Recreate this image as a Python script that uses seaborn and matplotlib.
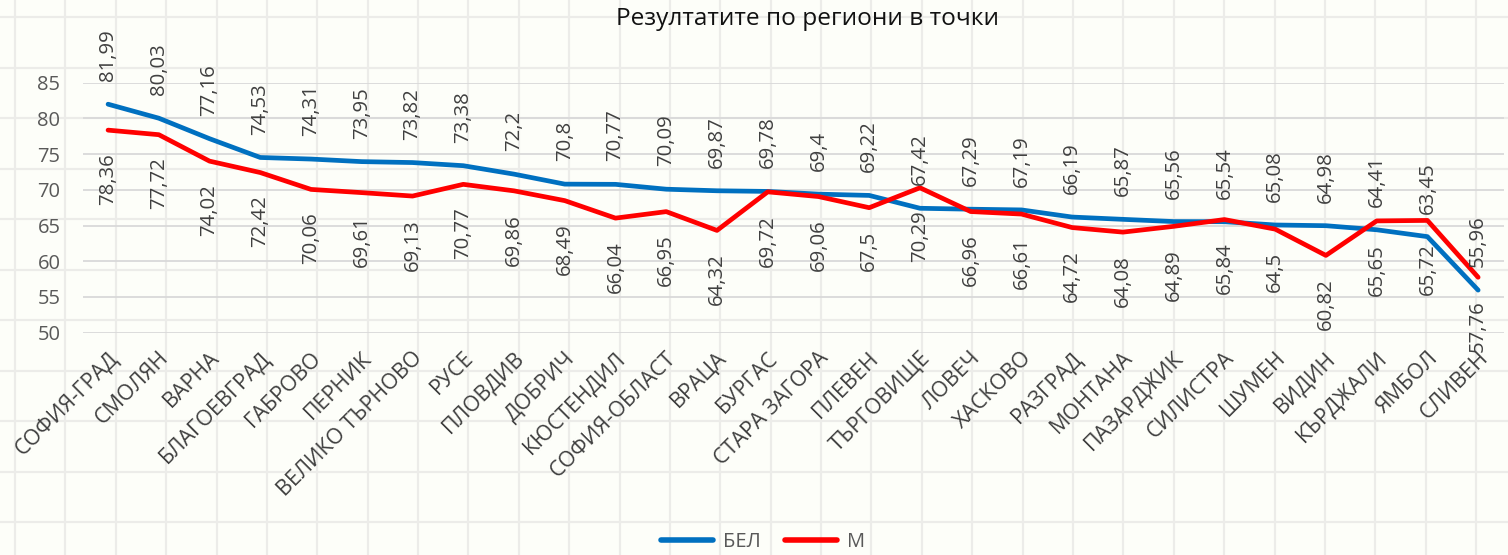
import numpy as np
import pandas as pd
import matplotlib
matplotlib.use("Agg")
import matplotlib.pyplot as plt
from matplotlib.transforms import ScaledTranslation
from matplotlib.lines import Line2D
import seaborn as sns

regions = ["СОФИЯ-ГРАД", "СМОЛЯН", "ВАРНА", "БЛАГОЕВГРАД", "ГАБРОВО", "ПЕРНИК",
           "ВЕЛИКО ТЪРНОВО", "РУСЕ", "ПЛОВДИВ", "ДОБРИЧ", "КЮСТЕНДИЛ", "СОФИЯ-ОБЛАСТ",
           "ВРАЦА", "БУРГАС", "СТАРА ЗАГОРА", "ПЛЕВЕН", "ТЪРГОВИЩЕ", "ЛОВЕЧ", "ХАСКОВО",
           "РАЗГРАД", "МОНТАНА", "ПАЗАРДЖИК", "СИЛИСТРА", "ШУМЕН", "ВИДИН", "КЪРДЖАЛИ",
           "ЯМБОЛ", "СЛИВЕН"]
bel = [81.99, 80.03, 77.16, 74.53, 74.31, 73.95, 73.82, 73.38, 72.2, 70.8, 70.77, 70.09,
       69.87, 69.78, 69.4, 69.22, 67.42, 67.29, 67.19, 66.19, 65.87, 65.56, 65.54, 65.08,
       64.98, 64.41, 63.45, 55.96]
mat = [78.36, 77.72, 74.02, 72.42, 70.06, 69.61, 69.13, 70.77, 69.86, 68.49, 66.04, 66.95,
       64.32, 69.72, 69.06, 67.5, 70.29, 66.96, 66.61, 64.72, 64.08, 64.89, 65.84, 64.5,
       60.82, 65.65, 65.72, 57.76]
series_names = ["БЕЛ", "М"]
series_colors = ["#0070C0", "#FF0000"]
title = "Резултатите по региони в точки"
yticks = [50, 55, 60, 65, 70, 75, 80, 85]

FONT = ["Open Sans", "DejaVu Sans"]
sns.set_theme(style="white")
plt.rcParams["font.family"] = FONT

W, H = 1508, 555
fig = plt.figure(figsize=(W / 100, H / 100), dpi=100)
fig.patch.set_facecolor("#FDFEF9")

# faint spreadsheet cell grid in the background
bg = fig.add_axes([0, 0, 1, 1], zorder=0)
bg.set_xlim(0, W)
bg.set_ylim(H, 0)
bg.axis("off")
for xv in np.arange(15, W, 50.38):
    bg.axvline(xv, color="#ECECE9", lw=1.6)
for yv in np.arange(17, H, 50.5):
    bg.axhline(yv, color="#ECECE9", lw=1.6)

left, right = 82.7 / W, 1503.5 / W
bottom, top = (H - 332.7) / H, (H - 82.7) / H
ax = fig.add_axes([left, bottom, right - left, top - bottom], zorder=1)
ax.set_facecolor("none")

df = pd.DataFrame({
    "region": regions * 2,
    "score": bel + mat,
    "series": [series_names[0]] * len(regions) + [series_names[1]] * len(regions),
})
sns.lineplot(data=df, x="region", y="score", hue="series", sort=False,
             palette=dict(zip(series_names, series_colors)), linewidth=3.4,
             legend=False, ax=ax, zorder=3)

ax.set_xlim(-0.5, len(regions) - 0.5)
ax.set_ylim(50, 85)
ax.set_yticks(yticks)
ax.set_yticklabels([str(t) for t in yticks])
ax.grid(axis="y", color="#D9D9D9", lw=1.3)
ax.grid(axis="x", visible=False)
for s in ax.spines.values():
    s.set_visible(False)
ax.set_xlabel("")
ax.set_ylabel("")
ax.tick_params(axis="y", length=0, pad=16, labelsize=14.5, labelcolor="#595959")
ax.tick_params(axis="x", length=0, pad=16, labelsize=15.5, labelcolor="#404040")
ax.set_xticks(range(len(regions)))
ax.set_xticklabels(regions)
for lab in ax.get_xticklabels():
    lab.set_rotation(45)
    lab.set_ha("right")
    lab.set_va("center")
    lab.set_rotation_mode("anchor")
    lab.set_transform(lab.get_transform() + ScaledTranslation(5 / 72, 0, fig.dpi_scale_trans))

def fmt(v):
    return ("%g" % v).replace(".", ",")

for i, v in enumerate(bel):
    ax.annotate(fmt(v), xy=(i, v), xytext=(0, 16.5), textcoords="offset points",
                rotation=90, ha="center", va="bottom", fontsize=14.7,
                color="#404040", annotation_clip=False, zorder=4)
for i, v in enumerate(mat):
    ax.annotate(fmt(v), xy=(i, v), xytext=(0, -16.5), textcoords="offset points",
                rotation=90, ha="center", va="top", fontsize=14.7,
                color="#404040", annotation_clip=False, zorder=4)

fig.text(807 / W, 1 - 19 / H, title, ha="center", va="center", fontsize=17.6, color="#111111")

handles = [Line2D([], [], color=c, lw=4, solid_capstyle="round") for c in series_colors]
fig.legend(handles, series_names, loc="center", bbox_to_anchor=(763 / W, 13 / H), ncol=2,
           frameon=False, fontsize=14.5, handlelength=2.6, columnspacing=1.2,
           handletextpad=0.5, labelcolor="#595959")

fig.savefig("out.png", dpi=100, facecolor=fig.get_facecolor())
